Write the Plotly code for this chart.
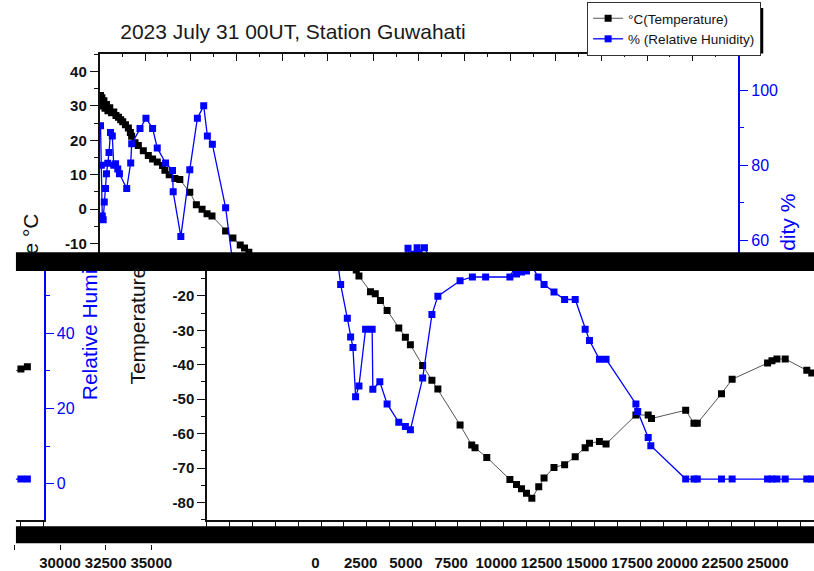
import plotly.graph_objects as go

# Radiosonde ascent, Guwahati, 2023-07-31 00UT (altitude in m)
alt_temp = [54, 90, 130, 180, 240, 300, 380, 460, 560, 660, 780, 900, 1036, 1160, 1272,
            1420, 1581, 1690, 1760, 1944, 2127, 2399, 2672, 2908, 3163, 3454, 3581, 3817,
            4127, 4400, 4945, 5306, 5617, 5890, 6163, 6908, 7308, 7708, 7945, 8180, 8327,
            8960, 9220, 9505, 9870, 10508, 10871, 11144, 11817, 12324, 12651, 13868, 14504,
            14686, 15331, 16597, 16960, 17233, 17506, 17800, 18178, 18469, 19014, 19596,
            20176, 20721, 20958, 21503, 21866, 23502, 24175, 24357, 26230, 26684, 26866,
            28192, 28775, 30717, 30957, 31230, 31684, 32866, 33139, 33746, 34100]
temp_c = [33.0, 31.2, 32.4, 30.0, 31.5, 29.3, 30.4, 28.6, 29.5, 28.0, 28.2, 27.2, 26.7, 26.0,
          25.4, 24.5, 23.6, 22.3, 21.2, 19.3, 18.5, 17.0, 15.6, 14.6, 13.7, 12.7, 11.3, 10.0,
          8.9, 8.6, 4.9, 1.3, 0.0, -1.3, -2.0, -6.3, -8.4, -10.4, -11.3, -12.5, -14.2,
          -18.8, -19.4, -21.3, -24.2, -29.3, -32.0, -34.2, -40.2, -44.5, -47.0, -57.5, -63.3,
          -64.1, -66.9, -73.3, -74.8, -76.0, -77.3, -78.8, -75.4, -72.9, -69.8, -69.0,
          -66.7, -64.1, -62.8, -62.3, -63.0, -54.6, -54.6, -55.6, -53.2, -57.0, -57.0,
          -48.4, -44.2, -39.5, -38.8, -38.3, -38.3, -41.6, -42.4, -41.2, -40.6]

alt_rh = [54, 100, 150, 200, 260, 330, 380, 450, 520, 600, 700, 780, 880, 1000, 1090,
          1490, 1708, 1763, 2217, 2544, 2908, 3163, 3618, 3999, 4035, 4454, 4945, 5361,
          5708, 5908, 6181, 6908, 7324, 7689, 7870, 7998, 8143, 8327, 8690, 9050, 9087,
          9470, 9870, 10508, 10871, 11144, 11817, 12324, 12651, 13868, 14541, 15268, 16597,
          16900, 16960, 17233, 17400, 17506, 17800, 18142, 18469, 19014, 19596, 20176,
          20721, 20958, 21503, 21866, 23502, 23600, 24175, 24320, 26230, 26684, 26866,
          28192, 28775, 30717, 30957, 31230, 31684, 32866, 33139, 33746, 34100]
rh_pct = [90.5, 80.0, 66.5, 65.5, 70.2, 73.8, 77.7, 80.5, 83.4, 88.7, 87.8, 80.0, 80.4, 79.0,
          77.7, 73.8, 80.6, 85.7, 89.8, 92.5, 89.8, 84.6, 80.6, 78.6, 72.9, 61.0, 78.8, 92.5,
          95.8, 87.8, 85.6, 68.7, 53.0, 44.0, 39.0, 36.2, 23.1, 26.0, 41.1, 41.1, 25.1,
          27.1, 21.2, 16.3, 15.2, 14.3, 28.1, 45.0, 49.9, 54.0, 55.0, 55.0, 55.0,
          57.9, 55.8, 56.3, 58.0, 56.6, 58.0, 55.0, 53.0, 51.0, 49.0, 49.0,
          41.1, 38.1, 33.1, 33.1, 21.2, 19.2, 12.3, 10.1, 1.2, 1.2, 1.2,
          1.2, 1.2, 1.2, 1.2, 1.2, 1.2, 1.2, 1.2, 1.2, 1.2]

alt_ticks = [0, 2500, 5000, 7500, 10000, 12500, 15000, 17500, 20000, 22500, 25000,
             27500, 30000, 32500, 35000]
alt_labels = ["0", "2500", "5000", "7500", "10000", "12500", "15000", "17500", "20000",
              "22500", "25000", "27500", "30000", "32500", "35000"]
temp_ticks = [40, 30, 20, 10, 0, -10, -20, -30, -40, -50, -60, -70, -80]
temp_labels = ["40", "30", "20", "10", "0", "-10", "-20", "-30", "-40", "-50", "-60",
               "-70", "-80"]
rh_ticks = [0, 20, 40, 60, 80, 100]
rh_labels = ["0", "20", "40", "60", "80", "100"]

TITLE = "2023 July 31 00UT, Station Guwahati"
NAME_T = "\u00b0C(Temperature)"
NAME_RH = "% (Relative Hunidity)"

FONT = "Liberation Sans, Arial, sans-serif"
INK = "#111111"
BLUE = "#0000ff"
LINE_T = "#555555"

W, H = 814, 571


def fx(p):
    return p / W


def fy(p):
    return 1 - p / H


# pixel calibration of the scales
APP = 2500 / 45.85          # metres per pixel along x
T_PX, RH_PX = 3.467, 3.783  # pixels per degree / per percent
DROP = 18                   # vertical offset of the lower strip


def t_top(p):
    return 40 - (p - 72) / T_PX


def h_top(p):
    return 100 - (p - 90.7) / RH_PX


def t_bot(p):
    return t_top(p - DROP)


def h_bot(p):
    return h_top(p - DROP)


TOP0, TOP1 = 54, 255
BOT0, BOT1 = 273, 524

fig = go.Figure()


def add_pair(xa, ya_t, ya_h, legend):
    fig.add_trace(go.Scatter(
        x=alt_temp, y=temp_c, xaxis=xa, yaxis=ya_t, mode="lines+markers", name=NAME_T,
        line=dict(color=LINE_T, width=1),
        marker=dict(symbol="square", size=7, color="black"),
        showlegend=legend, hoverinfo="skip"))
    fig.add_trace(go.Scatter(
        x=alt_rh, y=rh_pct, xaxis=xa, yaxis=ya_h, mode="lines+markers", name=NAME_RH,
        line=dict(color=BLUE, width=1.3),
        marker=dict(symbol="square", size=7, color=BLUE),
        showlegend=legend, hoverinfo="skip"))


add_pair("x", "y", "y2", True)
add_pair("x3", "y3", "y4", False)
add_pair("x5", "y5", "y6", False)

# empty carriers so the tick-label row axes get drawn
for xa in ("x7", "x8"):
    fig.add_trace(go.Scatter(x=alt_ticks, y=[None] * len(alt_ticks), xaxis=xa, yaxis="y3",
                             mode="markers", showlegend=False, hoverinfo="skip"))

common = dict(showgrid=False, zeroline=False, fixedrange=True)
temp_axis = dict(showline=True, linecolor=INK, linewidth=1.5, ticks="outside", ticklen=8,
                 tickwidth=1.3, tickcolor=INK, tickmode="array", tickvals=temp_ticks,
                 ticktext=temp_labels, tickfont=dict(size=15, color=INK, weight="bold"),
                 minor=dict(tickmode="linear", tick0=0, dtick=5, ticks="outside",
                            ticklen=4, tickwidth=1.3, tickcolor=INK), **common)
rh_axis = dict(showline=True, linecolor=BLUE, linewidth=1.5, ticks="outside", ticklen=8,
               tickwidth=1.3, tickcolor=BLUE, tickmode="array", tickvals=rh_ticks,
               ticktext=rh_labels, tickfont=dict(size=16, color=BLUE),
               minor=dict(tickmode="linear", tick0=0, dtick=10, ticks="outside",
                          ticklen=4, tickwidth=1.3, tickcolor=BLUE), **common)
alt_frame = dict(showline=True, linecolor=INK, linewidth=1.5, tickmode="array",
                 tickvals=alt_ticks, showticklabels=False, tickwidth=1.3, tickcolor=INK,
                 **common)
alt_labels_axis = dict(anchor="free", position=fy(548), side="bottom", showline=False,
                       tickmode="array", tickvals=alt_ticks, ticktext=alt_labels,
                       tickfont=dict(size=15, color=INK, weight="bold"), ticks="outside",
                       ticklen=5, tickwidth=1.3, **common)

LEG_TOP = 2

fig.update_layout(
    width=W, height=H, autosize=False,
    margin=dict(l=0, r=0, t=0, b=0),
    paper_bgcolor="white", plot_bgcolor="rgba(0,0,0,0)",
    font=dict(family=FONT, color=INK),
    title=dict(text=TITLE, x=fx(293), xanchor="center", y=fy(32), yanchor="middle",
               font=dict(size=21, color="#1a1a1a", family=FONT)),
    # upper strip
    xaxis=dict(domain=[fx(96), fx(738)], range=[0, 35000], anchor="y", side="top",
               ticks="inside", ticklen=8,
               minor=dict(tickmode="linear", tick0=0, dtick=1250, ticks="inside",
                          ticklen=4, tickwidth=1.3, tickcolor=INK), **alt_frame),
    yaxis=dict(domain=[fy(TOP1), fy(TOP0)], range=[t_top(TOP1), t_top(TOP0)], anchor="x",
               **temp_axis),
    yaxis2=dict(overlaying="y", side="right", anchor="x",
                range=[h_top(TOP1), h_top(TOP0)], **rh_axis),
    # lower strip
    xaxis3=dict(domain=[fx(204), 1], range=[0, (W - 204) * APP], anchor="y3", side="bottom",
                ticks="outside", ticklen=6,
                minor=dict(tickmode="linear", tick0=0, dtick=1250, ticks="outside",
                           ticklen=6, tickwidth=1.3, tickcolor=INK), **alt_frame),
    yaxis3=dict(domain=[fy(BOT1), fy(BOT0)], range=[t_bot(BOT1), t_bot(BOT0)],
                anchor="x3", **temp_axis),
    yaxis4=dict(overlaying="y3", side="right", anchor="x3",
                range=[h_bot(BOT1), h_bot(BOT0)], visible=False),
    xaxis5=dict(domain=[fx(12), fx(40)], range=[35000 - 28 * APP, 35000], anchor="y5",
                side="bottom", ticks="outside", ticklen=6,
                minor=dict(tickmode="linear", tick0=0, dtick=1250, ticks="outside",
                           ticklen=6, tickwidth=1.3, tickcolor=INK), **alt_frame),
    yaxis5=dict(domain=[fy(BOT1), fy(BOT0)], range=[t_bot(BOT1), t_bot(BOT0)],
                anchor="x5", visible=False),
    yaxis6=dict(overlaying="y5", side="right", anchor="x5",
                range=[h_bot(BOT1), h_bot(BOT0)], **rh_axis),
    # tick label row
    xaxis7=dict(domain=[fx(313), 1], range=[0, 27560], tickcolor="white", **alt_labels_axis),
    xaxis8=dict(domain=[0, fx(200)], range=[35000 - 148 * APP, 35000 + 52 * APP],
                tickcolor=INK, **alt_labels_axis),
    legend=dict(x=fx(586), y=fy(LEG_TOP), xanchor="left", yanchor="top", bgcolor="white",
                bordercolor="#333333", borderwidth=1, font=dict(size=13.5, color=INK),
                itemwidth=30, tracegroupgap=0),
)

shapes = [
    dict(x0=fx(12), x1=1, y0=fy(BOT0), y1=fy(254), fillcolor="black"),
    dict(x0=fx(12), x1=1, y0=fy(547), y1=fy(530), fillcolor="black"),
    dict(x0=fx(592), x1=fx(763), y0=fy(54), y1=fy(LEG_TOP + 6), fillcolor="black"),
]
for s in shapes:
    fig.add_shape(type="rect", xref="paper", yref="paper", layer="above",
                  line=dict(width=0), **s)

titles = [
    dict(text="e \u00b0C", x=fx(27), y=fy(257), color=INK),
    dict(text="Temperature", x=fx(134), y=fy(388), color=INK),
    dict(text="Relative Humi", x=fx(86), y=fy(404), color=BLUE),
    dict(text="dity %", x=fx(788), y=fy(254), color=BLUE),
]
for t in titles:
    fig.add_annotation(text=t["text"], x=t["x"], y=t["y"], xref="paper", yref="paper",
                       xanchor="center", yanchor="bottom", textangle=-90, showarrow=False,
                       borderpad=0, font=dict(size=21, color=t["color"], family=FONT))

fig.write_html("out.html")
